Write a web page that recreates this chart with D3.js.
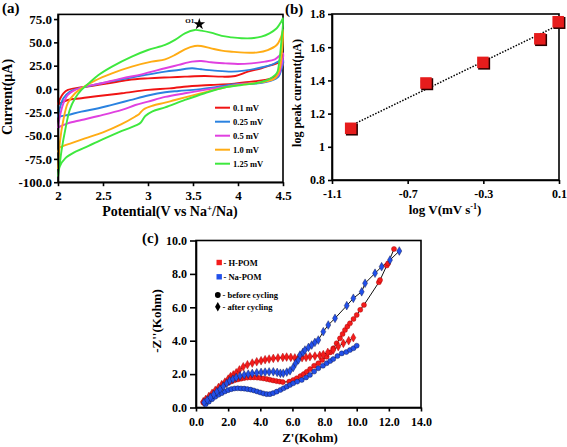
<!DOCTYPE html>
<html><head><meta charset="utf-8">
<script src="https://cdn.jsdelivr.net/npm/d3@7"></script>
<style>
body{margin:0;background:#fff}
svg{display:block}
text{font-family:"Liberation Serif","Times New Roman",serif;font-weight:bold;fill:#000}
</style>
</head><body>
<svg id="chart" width="567" height="447"></svg>
<script>
// ---------- Panel (a): CV curves (potential V, current uA) ----------
const cvLabels = ["0.1 mV","0.25 mV","0.5 mV","1.0 mV","1.25 mV"];
const cvColors = ["#f01414","#2a82e0","#e040e0","#ffac14","#3ee83e"];
const cv01 = [[2.0,-17],[2.02,-11],[2.06,-4.6],[2.11,-1],[2.23,1.4],[2.37,3.2],[2.56,6],[2.78,9.7],[3.0,11.4],[3.24,12.5],[3.41,13.2],[3.63,13.9],[3.82,13.2],[3.97,13.9],[4.11,18.6],[4.26,22.2],[4.41,26.8],[4.5,29.3],
  [4.46,18.6],[4.41,13.2],[4.3,9.7],[4.15,7.9],[3.93,5.4],[3.7,4.3],[3.49,3.2],[3.24,0.7],[3.0,-1],[2.71,-4.6],[2.45,-7.5],[2.26,-10],[2.11,-11.8],[2.02,-15.4],[2.0,-17]];
const cv025 = [[2.0,-30],[2.02,-20.7],[2.06,-10],[2.13,-2.9],[2.23,0.7],[2.34,3.2],[2.52,6.8],[2.71,10.4],[2.93,14.3],[3.19,18.6],[3.34,20.4],[3.49,22.2],[3.59,21.1],[3.74,19.7],[3.93,18.6],[4.07,19.7],[4.22,22.2],[4.37,25.8],[4.5,31.1],
  [4.48,20.4],[4.45,13.2],[4.37,8.9],[4.22,6],[4.0,5.4],[3.78,2.5],[3.56,-0.4],[3.34,-2.1],[3.19,-3.5],[3.0,-7],[2.8,-12],[2.6,-17],[2.45,-20.7],[2.26,-24.3],[2.11,-27.9],[2.02,-29.7],[2.0,-31]];
const cv05 = [[2.0,-42],[2.02,-29.7],[2.06,-15.4],[2.11,-6.4],[2.19,-1],[2.3,2.5],[2.45,5.4],[2.71,11.4],[2.93,15.7],[3.19,22.2],[3.34,25.8],[3.49,29.3],[3.59,30],[3.7,28.6],[3.86,27.5],[4.0,26.8],[4.15,27.5],[4.3,29.3],[4.41,31.8],[4.5,38.3],
  [4.48,24],[4.45,15],[4.37,9.7],[4.22,6.8],[4.04,5.4],[3.86,2.5],[3.63,-1],[3.41,-4.6],[3.19,-8.5],[3.0,-13.6],[2.86,-17.2],[2.71,-22.5],[2.45,-29],[2.26,-33.3],[2.11,-36.8],[2.02,-40.4],[2.0,-42]];
const cv10 = [[2.0,-86],[2.01,-72],[2.02,-58],[2.06,-33],[2.11,-15],[2.19,-4.6],[2.28,1.8],[2.41,9],[2.6,16.8],[2.82,24],[3.04,29.3],[3.19,31.8],[3.3,36.5],[3.41,42.6],[3.52,46.1],[3.59,46.1],[3.7,43.6],[3.82,41.1],[3.93,40],[4.07,39],[4.22,39.3],[4.33,41.8],[4.43,47.2],[4.48,56.2],[4.5,63.3],
  [4.49,42],[4.46,20.4],[4.41,11.4],[4.3,7.9],[4.11,5.4],[3.93,3.2],[3.74,-1],[3.52,-6.4],[3.3,-11.8],[3.19,-14.7],[3.05,-18],[2.95,-22],[2.9,-27],[2.86,-29.5],[2.7,-38],[2.5,-46.5],[2.3,-53],[2.15,-58],[2.06,-61],[2.02,-63],[2.0,-68]];
const cv125 = [[2.0,-94],[2.02,-80],[2.04,-65.5],[2.08,-44],[2.13,-22.5],[2.19,-10],[2.26,-1],[2.34,6],[2.45,15],[2.6,24],[2.82,34.7],[3.0,41.8],[3.19,47.2],[3.3,52.6],[3.41,59.7],[3.52,63.3],[3.59,62.6],[3.7,60.4],[3.82,56.9],[3.93,55.4],[4.04,54.4],[4.15,54.4],[4.26,56.2],[4.35,59.7],[4.43,65.1],[4.48,72.2],[4.5,75.8],
  [4.48,49],[4.46,31],[4.43,16.8],[4.33,9.7],[4.19,6],[4.04,4.3],[3.86,1.8],[3.63,-4.6],[3.41,-11.8],[3.19,-19.7],[3.05,-24],[2.97,-29],[2.92,-36],[2.88,-38.5],[2.71,-45],[2.52,-53],[2.34,-61],[2.19,-67.5],[2.08,-74.4],[2.02,-83],[2.0,-94]];
const cvSeries = [cv01, cv025, cv05, cv10, cv125];
const aXTicks = [2,2.5,3,3.5,4,4.5];
const aYTicks = [-100,-75,-50,-25,0,25,50,75];
const peakLabel = {x:3.57, y:69.5, text:"O1"};

// ---------- Panel (b): log peak current vs log scan rate ----------
const logV = [-1.0,-0.602,-0.301,0.0,0.097];
const logIp = [1.11,1.383,1.507,1.649,1.752];
const bXTicks = [-1.1,-0.7,-0.3,0.1];
const bYTicks = [0.8,1.0,1.2,1.4,1.6,1.8];

// ---------- Panel (c): Nyquist plots (Z' kOhm, -Z'' kOhm) ----------
const hpomBefore = [[0.45,0.3],[0.6,0.42],[0.8,0.58],[1.0,0.75],[1.2,0.92],[1.4,1.08],[1.6,1.22],[1.8,1.36],[2.0,1.47],[2.2,1.56],[2.4,1.63],[2.6,1.68],[2.8,1.72],[3.0,1.76],[3.2,1.79],[3.4,1.8],[3.6,1.8],[3.8,1.79],[4.0,1.77],[4.2,1.74],[4.4,1.7],[4.6,1.66],[4.8,1.62],[5.0,1.58],[5.2,1.55],[5.4,1.52],
  [5.8,1.55],[6.05,1.65],[6.27,1.75],[6.5,1.88],[6.7,2.0],[6.89,2.14],[7.1,2.3],[7.35,2.5],[7.61,2.65],[7.85,2.85],[8.13,3.04],[8.35,3.3],[8.54,3.54],[8.75,3.85],[8.96,4.14],[9.12,4.4],[9.27,4.64],[9.42,4.85],[9.58,5.04],[9.8,5.3],[10.0,5.54],[10.22,5.85],[10.45,6.14],[11.38,7.5],[11.45,7.63],[11.87,8.5],[11.95,8.63],[12.32,9.49]];
const hpomAfter = [[0.45,0.35],[0.6,0.48],[0.8,0.66],[1.0,0.85],[1.2,1.03],[1.4,1.2],[1.6,1.37],[1.8,1.52],[2.0,1.7],[2.15,1.85],[2.32,1.95],[2.5,2.08],[2.7,2.25],[2.94,2.44],[3.2,2.56],[3.5,2.66],[3.78,2.74],[4.05,2.8],[4.3,2.86],[4.55,2.9],[4.81,2.94],[5.1,2.97],[5.4,3.0],[5.64,3.02],[5.9,3.0],[6.15,2.97],[6.37,2.95],[6.6,2.98],[6.85,3.0],[7.09,3.04],[7.4,3.08],[7.7,3.12],[7.92,3.17],[8.2,3.3],[8.54,3.44],[8.85,3.65],[9.17,3.84],[9.5,4.0],[9.79,4.18]];
const napomBefore = [[0.6,0.2],[0.8,0.35],[1.0,0.5],[1.2,0.64],[1.4,0.76],[1.6,0.86],[1.8,0.96],[2.0,1.04],[2.2,1.1],[2.4,1.14],[2.6,1.15],[2.8,1.14],[3.0,1.13],[3.2,1.1],[3.4,1.07],[3.6,1.02],[3.8,0.96],[4.0,0.9],[4.2,0.84],[4.4,0.8],[4.6,0.8],[4.8,0.86],[5.02,0.95],[5.25,1.05],[5.45,1.15],[5.65,1.25],[5.85,1.35],[6.05,1.45],[6.3,1.55],[6.58,1.65],[6.85,1.8],[7.09,1.95],[7.35,2.15],[7.61,2.35],[7.9,2.5],[8.13,2.65],[8.35,2.78],[8.54,2.9],[8.8,3.08],[9.07,3.24],[9.35,3.32],[9.58,3.44],[9.8,3.55],[10.0,3.7]];
const napomAfter = [[0.5,0.3],[0.7,0.45],[0.9,0.6],[1.1,0.78],[1.3,0.95],[1.5,1.1],[1.7,1.27],[1.91,1.45],[2.1,1.6],[2.3,1.7],[2.5,1.8],[2.74,1.89],[3.0,1.95],[3.25,2.0],[3.5,2.04],[3.78,2.08],[4.05,2.1],[4.3,2.12],[4.55,2.13],[4.81,2.14],[5.05,2.1],[5.25,2.05],[5.43,2.05],[5.65,2.12],[5.85,2.2],[6.05,2.4],[6.2,2.65],[6.37,2.85],[6.47,3.14],[6.65,3.3],[6.78,3.44],[7.0,3.6],[7.2,3.74],[7.4,3.9],[7.61,4.04],[7.92,4.54],[8.23,4.94],[8.65,5.34],[9.38,6.1],[9.79,6.54],[10.31,6.93],[10.52,7.44],[11.14,8.04],[11.55,8.43],[12.07,8.83],[12.65,9.37]];
const cXTicks = [0,2,4,6,8,10,12,14];
const cYTicks = [0,2,4,6,8,10];
const cMaterials = ["H-POM","Na-POM"];
const cMatColors = ["#f41c1c","#2250ea"];
const cStates = ["before cycling","after cycling"];

// ================= drawing =================
const svg = d3.select("#chart");
const F = '"Liberation Serif","Times New Roman",serif';

function styleAxis(g, fs){
  g.attr("font-family", F).attr("font-size", fs).attr("font-weight","bold");
  g.selectAll("path,line").attr("stroke","#000").attr("stroke-width",1.6);
  g.selectAll("text").attr("fill","#000");
}
function frame(x0,x1,y0,y1){
  svg.append("rect").attr("x",x0).attr("y",y1).attr("width",x1-x0).attr("height",y0-y1)
    .attr("fill","none").attr("stroke","#000").attr("stroke-width",1.6);
}

// ----- Panel (a) -----
const ax = d3.scaleLinear().domain([2,4.5]).range([58,283]);
const ay = d3.scaleLinear().domain([-100,80]).range([182.2,14.4]);
frame(58,283,182.2,14.4);
const aLine = d3.line().x(d=>ax(d[0])).y(d=>ay(d[1])).curve(d3.curveCatmullRom.alpha(0.5));
const gA = svg.append("g");
cvSeries.forEach((s,i)=>{
  gA.append("path").attr("d",aLine(s)).attr("fill","none").attr("stroke",cvColors[i]).attr("stroke-width",1.9).attr("stroke-linejoin","round");
});
svg.append("g").attr("transform","translate(0,182.2)")
  .call(d3.axisBottom(ax).tickValues(aXTicks).tickFormat(d=>String(d)).tickSize(4).tickPadding(5).tickSizeOuter(0))
  .call(g=>styleAxis(g,13));
svg.append("g").attr("transform","translate(58,0)")
  .call(d3.axisLeft(ay).tickValues(aYTicks).tickFormat(d=>d.toFixed(1)).tickSize(4).tickPadding(2).tickSizeOuter(0))
  .call(g=>styleAxis(g,13));
svg.append("text").attr("x",2).attr("y",13).attr("font-size",15).text("(a)");
svg.append("text").attr("transform","translate(12,97) rotate(-90)").attr("text-anchor","middle").attr("font-size",14).text("Current(μA)");
{
  const t = svg.append("text").attr("x",170).attr("y",216).attr("text-anchor","middle").attr("font-size",14);
  t.append("tspan").text("Potential(V vs Na");
  t.append("tspan").attr("font-size",9).attr("dy",-5).text("+");
  t.append("tspan").attr("dy",5).text("/Na)");
}
// legend (a)
const aLeg = svg.append("g");
cvLabels.forEach((lab,i)=>{
  const yy = 107.7 + i*14;
  aLeg.append("line").attr("x1",215).attr("x2",230).attr("y1",yy).attr("y2",yy).attr("stroke",cvColors[i]).attr("stroke-width",2);
  aLeg.append("text").attr("x",233).attr("y",yy+3).attr("font-size",8.5).text(lab);
});
// O1 star
svg.append("path").attr("d",d3.symbol(d3.symbolStar,42)())
  .attr("transform",`translate(${ax(peakLabel.x)},${ay(peakLabel.y)})`).attr("fill","#000");
svg.append("text").attr("x",ax(peakLabel.x)-5).attr("y",ay(peakLabel.y)-1.5).attr("text-anchor","end").attr("font-size",7).text(peakLabel.text);

// ----- Panel (b) -----
const bx = d3.scaleLinear().domain([-1.1,0.1]).range([332,559]);
const by = d3.scaleLinear().domain([0.8,1.8]).range([180,14]);
frame(332,559,180,14);
svg.append("g").attr("transform","translate(0,180)")
  .call(d3.axisBottom(bx).tickValues(bXTicks).tickFormat(d=>d.toFixed(1)).tickSize(4).tickPadding(5).tickSizeOuter(0))
  .call(g=>styleAxis(g,12));
svg.append("g").attr("transform","translate(332,0)")
  .call(d3.axisLeft(by).tickValues(bYTicks).tickFormat(d=>d===1?"1":d.toFixed(1)).tickSize(4).tickPadding(3).tickSizeOuter(0))
  .call(g=>styleAxis(g,12));
// least squares trend
{
  const n = logV.length, mx = d3.mean(logV), my = d3.mean(logIp);
  let sxy=0,sxx=0; for(let i=0;i<n;i++){sxy+=(logV[i]-mx)*(logIp[i]-my); sxx+=(logV[i]-mx)**2;}
  const k = sxy/sxx, b0 = my - k*mx;
  const x0 = d3.min(logV), x1 = d3.max(logV);
  svg.append("line").attr("x1",bx(x0)).attr("y1",by(k*x0+b0)).attr("x2",bx(x1)).attr("y2",by(k*x1+b0))
    .attr("stroke","#000").attr("stroke-width",1.5).attr("stroke-dasharray","1.5,1.5");
}
const bPts = svg.append("g");
logV.forEach((v,i)=>{
  const cx0 = bx(v), cy0 = by(logIp[i]);
  bPts.append("rect").attr("x",cx0-5).attr("y",cy0-5).attr("width",12).attr("height",12).attr("fill","#2a0000");
  bPts.append("rect").attr("x",cx0-6).attr("y",cy0-6).attr("width",11.5).attr("height",11.5).attr("fill","#e61c1c");
});
svg.append("text").attr("x",285).attr("y",14).attr("font-size",15).text("(b)");
svg.append("text").attr("transform","translate(301,93) rotate(-90)").attr("text-anchor","middle").attr("font-size",12).text("log peak current(μA)");
{
  const t = svg.append("text").attr("x",445).attr("y",214).attr("text-anchor","middle").attr("font-size",13);
  t.append("tspan").text("log V(mV s");
  t.append("tspan").attr("font-size",8).attr("dy",-5).text("-1");
  t.append("tspan").attr("dy",5).text(")");
}

// ----- Panel (c) -----
const cx = d3.scaleLinear().domain([0,14]).range([196,421]);
const cy = d3.scaleLinear().domain([0,10]).range([407.5,240.5]);
frame(196,421,407.5,240.5);
svg.append("g").attr("transform","translate(0,407.5)")
  .call(d3.axisBottom(cx).tickValues(cXTicks).tickFormat(d=>d.toFixed(1)).tickSize(4).tickPadding(6).tickSizeOuter(0))
  .call(g=>styleAxis(g,12));
svg.append("g").attr("transform","translate(196,0)")
  .call(d3.axisLeft(cy).tickValues(cYTicks).tickFormat(d=>d.toFixed(1)).tickSize(6).tickPadding(3).tickSizeOuter(0))
  .call(g=>styleAxis(g,12));
const cLine = d3.line().x(d=>cx(d[0])).y(d=>cy(d[1]));
const cSets = [
  {data:hpomBefore, mat:0, st:0},
  {data:hpomAfter,  mat:0, st:1},
  {data:napomBefore,mat:1, st:0},
  {data:napomAfter, mat:1, st:1}
];
cSets.forEach(s=>{
  svg.append("path").attr("d",cLine(s.data)).attr("fill","none").attr("stroke","#111").attr("stroke-width",1);
});
const circ = d3.symbol(d3.symbolCircle,20)();
const diam = d3.symbol(d3.symbolDiamond,22)();
cSets.forEach(s=>{
  svg.append("g").selectAll("path").data(s.data).join("path")
    .attr("d", s.st===0?circ:diam)
    .attr("transform",d=>`translate(${cx(d[0])},${cy(d[1])})`)
    .attr("fill",cMatColors[s.mat]).attr("stroke", s.mat===0?"#900":"#113").attr("stroke-width",0.4);
});
// legend (c)
cMaterials.forEach((m,i)=>{
  const yy = 262.5 + i*14.3;
  svg.append("rect").attr("x",216.5).attr("y",yy-2.7).attr("width",5.4).attr("height",5.4).attr("fill",cMatColors[i]);
  svg.append("text").attr("x",223.5).attr("y",yy+3).attr("font-size",8.5).text("- "+m);
});
svg.append("path").attr("d",d3.symbol(d3.symbolCircle,26)()).attr("transform","translate(217.8,295)").attr("fill","#000");
svg.append("text").attr("x",222.5).attr("y",298).attr("font-size",8.5).text("- "+cStates[0]);
svg.append("path").attr("d",d3.symbol(d3.symbolDiamond,26)()).attr("transform","translate(217.8,306.8)").attr("fill","#000");
svg.append("text").attr("x",222.5).attr("y",309.8).attr("font-size",8.5).text("- "+cStates[1]);
svg.append("text").attr("x",142).attr("y",243).attr("font-size",15).text("(c)");
svg.append("text").attr("transform","translate(161,321) rotate(-90)").attr("text-anchor","middle").attr("font-size",13).text("-Z''(Kohm)");
svg.append("text").attr("x",310).attr("y",442).attr("text-anchor","middle").attr("font-size",13).text("Z'(Kohm)");
</script>
</body></html>
